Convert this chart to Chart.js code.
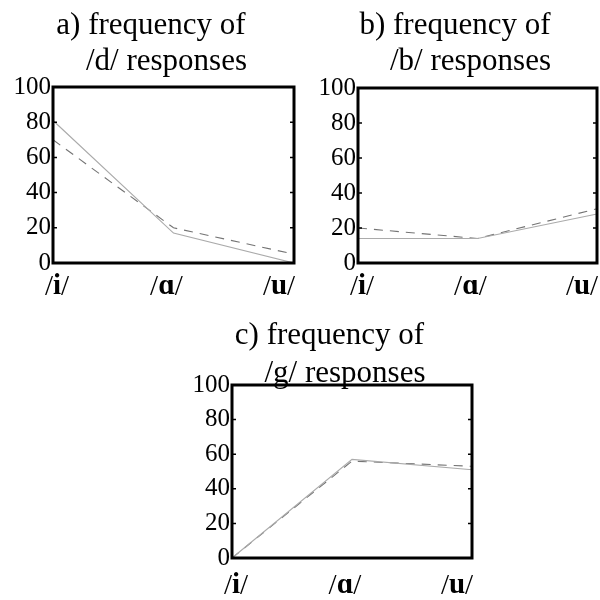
<!DOCTYPE html>
<html>
<head>
<meta charset="utf-8">
<script src="https://cdn.jsdelivr.net/npm/chart.js@4"></script>
<style>
  html, body { margin: 0; padding: 0; background: #fff; }
  body { width: 600px; height: 600px; position: relative; overflow: hidden; }
  .panel { position: absolute; }
</style>
</head>
<body>
<div class="panel" style="left:2px; top:0px; width:300px; height:300px;"><canvas id="chartD"></canvas></div>
<div class="panel" style="left:312px; top:0px; width:300px; height:300px;"><canvas id="chartB"></canvas></div>
<div class="panel" style="left:181px; top:300px; width:300px; height:295px;"><canvas id="chartG"></canvas></div>
<script>
// vowel contexts on the x axis
const vowels = ['/i/', '/ɑ/', '/u/'];
const yTicks = [0, 20, 40, 60, 80, 100];

// a) /d/ responses
const dSolid = [81, 17, 0];
const dDashed = [70, 20, 5];
// b) /b/ responses
const bSolid = [14, 14, 28];
const bDashed = [20, 14, 31];
// c) /g/ responses
const gSolid = [0, 57, 51];
const gDashed = [0, 56, 53];

const SERIF = '"Liberation Serif", "Times New Roman", "DejaVu Serif", serif';

// caja negra, marcas internas y etiquetas /x/ con la vocal en negrita
const framePlugin = {
  id: 'frame',
  afterDraw(chart, args, opts) {
    const { ctx, chartArea: a } = chart;
    const x = chart.scales.x, y = chart.scales.y;
    ctx.save();
    ctx.strokeStyle = '#000';
    ctx.lineWidth = 3;
    ctx.strokeRect(a.left, a.top, a.right - a.left, a.bottom - a.top);

    ctx.lineWidth = 1.5;
    yTicks.slice(1, -1).forEach(v => {
      const py = y.getPixelForValue(v);
      ctx.beginPath();
      ctx.moveTo(a.left, py); ctx.lineTo(a.left + 4, py);
      ctx.moveTo(a.right - 4, py); ctx.lineTo(a.right, py);
      ctx.stroke();
    });

    const shifts = [4, -7, -15];
    ctx.fillStyle = '#000';
    ctx.textBaseline = 'middle';
    ctx.textAlign = 'left';
    const normal = '29px ' + SERIF, bold = 'bold 29px ' + SERIF;
    vowels.forEach((lab, i) => {
      const parts = [[lab[0], normal], [lab.slice(1, -1), bold], [lab.slice(-1), normal]];
      let w = 0;
      parts.forEach(p => { ctx.font = p[1]; w += ctx.measureText(p[0]).width; });
      let px = x.getPixelForValue(i) + shifts[i] - w / 2;
      const py = a.bottom + opts.labelGap;
      parts.forEach(p => {
        ctx.font = p[1];
        ctx.fillText(p[0], px, py);
        px += ctx.measureText(p[0]).width;
      });
    });
    ctx.restore();
  }
};

function makePanel(id, title, solid, dashed, cfg) {
  return new Chart(document.getElementById(id), {
    type: 'line',
    data: {
      labels: vowels,
      datasets: [
        { data: solid, borderColor: '#ababab', borderWidth: 1.2, pointRadius: 0, tension: 0 },
        { data: dashed, borderColor: '#747474', borderWidth: 1.1, borderDash: [9, 7], pointRadius: 0, tension: 0 }
      ]
    },
    options: {
      responsive: true,
      maintainAspectRatio: false,
      animation: false,
      layout: { padding: { left: cfg.padL, right: cfg.padR, top: 0, bottom: 0 } },
      plugins: {
        legend: { display: false },
        tooltip: { enabled: false },
        title: {
          display: true,
          text: title,
          color: '#000',
          font: { family: SERIF, size: 31, weight: 'normal', lineHeight: cfg.lineH + 'px' },
          padding: { top: cfg.titleTop, bottom: cfg.titleBottom }
        },
        frame: { labelGap: cfg.labelGap }
      },
      scales: {
        x: {
          type: 'category',
          offset: false,
          grid: { display: false, drawTicks: false, tickLength: 0 },
          border: { display: false },
          ticks: { display: false },
          afterFit: s => { s.height = 37; }
        },
        y: {
          min: 0,
          max: 100,
          grid: { display: false, drawTicks: false, tickLength: 0 },
          border: { display: false },
          ticks: {
            stepSize: 20,
            padding: 2,
            color: '#000',
            font: { family: SERIF, size: 25 }
          },
          afterFit: s => { s.width = 45; }
        }
      }
    },
    plugins: [framePlugin]
  });
}

makePanel('chartD', ['a) frequency of', '    /d/ responses'], dSolid, dDashed,
  { padL: 6, padR: 8, lineH: 36, titleTop: 8, titleBottom: 7, labelGap: 24 });
makePanel('chartB', ['b) frequency of', '    /b/ responses'], bSolid, bDashed,
  { padL: 1, padR: 15, lineH: 36, titleTop: 8, titleBottom: 8, labelGap: 24 });
makePanel('chartG', ['c) frequency of', '    /g/ responses'], gSolid, gDashed,
  { padL: 6, padR: 9, lineH: 38, titleTop: 17, titleBottom: -8, labelGap: 28 });
</script>
</body>
</html>
